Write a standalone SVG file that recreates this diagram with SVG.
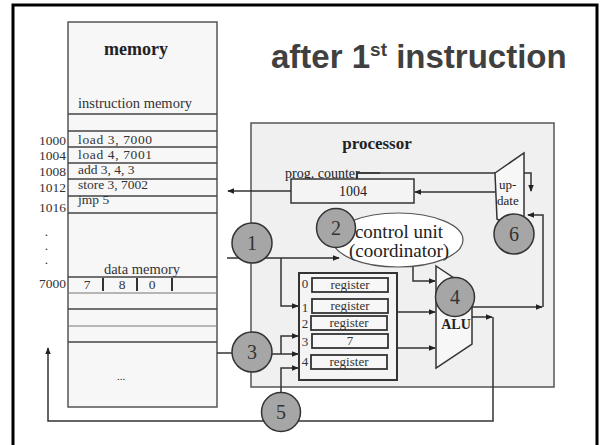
<svg xmlns="http://www.w3.org/2000/svg" width="602" height="445" viewBox="0 0 602 445">
  <defs>
    <marker id="arr" viewBox="0 0 8 8" refX="7" refY="4" markerWidth="7" markerHeight="7" markerUnits="userSpaceOnUse" orient="auto">
      <path d="M0,0.8 L8,4 L0,7.2 Z" fill="#222"/>
    </marker>
    <style>
      .serif { font-family: "Liberation Serif", "Times New Roman", serif; fill: #222; }
      .box { fill: #f7f7f7; stroke: #555; stroke-width: 1.5; }
      .row { stroke: #444; stroke-width: 1.5; }
      .rowl { stroke: #777; stroke-width: 1.2; }
      .wire { fill: none; stroke: #333; stroke-width: 1.5; }
      .wa { fill: none; stroke: #333; stroke-width: 1.5; marker-end: url(#arr); }
      .step { fill: #a6a6a6; stroke: #333; stroke-width: 1.5; }
      .num { font-family: "Liberation Serif", "Times New Roman", serif; font-size: 20px; fill: #333; text-anchor: middle; }
      .reg { fill: #f7f7f7; stroke: #333; stroke-width: 1.8; }
      .rt { font-family: "Liberation Serif", "Times New Roman", serif; font-size: 13px; fill: #333; text-anchor: middle; }
      .addr { font-family: "Liberation Serif", "Times New Roman", serif; font-size: 13.5px; fill: #333; text-anchor: end; }
      .ins { font-family: "Liberation Serif", "Times New Roman", serif; font-size: 13.5px; fill: #333; }
    </style>
  </defs>

  <rect width="602" height="445" fill="#ffffff"/>
  <!-- slide frame -->
  <path d="M13,447 V5 H597 V447" fill="none" stroke="#000" stroke-width="3"/>

  <!-- heading -->
  <g id="title">
    <text x="271" y="68" font-family="Liberation Sans, Arial, sans-serif" font-weight="bold" font-size="33" fill="#404040">after 1<tspan font-size="19" dy="-12">st</tspan><tspan dy="12"> instruction</tspan></text>
  </g>

  <!-- processor housing -->
  <g id="processor">
    <rect x="251" y="123" width="303" height="264" fill="#f0f0f0" stroke="#555" stroke-width="1.5"/>
    <text x="377" y="149" class="serif" font-size="17" font-weight="bold" text-anchor="middle">processor</text>
  </g>

  <!-- memory column -->
  <g id="memory">
    <rect x="68" y="22" width="149" height="385" class="box"/>
    <text x="136" y="55" class="serif" font-size="18" font-weight="bold" text-anchor="middle">memory</text>
    <text x="78" y="108" class="ins" style="font-size:14.5px">instruction memory</text>
    <line x1="68" y1="114" x2="217" y2="114" class="row"/>
    <line x1="68" y1="131" x2="217" y2="131" class="row"/>
    <line x1="68" y1="147" x2="217" y2="147" class="row"/>
    <line x1="68" y1="163" x2="217" y2="163" class="row"/>
    <line x1="68" y1="179" x2="217" y2="179" class="row"/>
    <line x1="68" y1="196" x2="217" y2="196" class="row"/>
    <line x1="68" y1="213" x2="217" y2="213" class="row"/>
    <text x="78" y="144" class="ins" textLength="74">load 3, 7000</text>
    <text x="78" y="159" class="ins" textLength="74">load 4, 7001</text>
    <text x="78" y="174" class="ins">add  3, 4, 3</text>
    <text x="78" y="189" class="ins">store 3, 7002</text>
    <text x="78" y="204" class="ins">jmp 5</text>
    <text x="66" y="145" class="addr">1000</text>
    <text x="66" y="160" class="addr">1004</text>
    <text x="66" y="176" class="addr">1008</text>
    <text x="66" y="192" class="addr">1012</text>
    <text x="66" y="212" class="addr">1016</text>
    <text x="48" y="236" class="addr" text-anchor="middle">.</text>
    <text x="48" y="250" class="addr" text-anchor="middle">.</text>
    <text x="48" y="264" class="addr" text-anchor="middle">.</text>
    <text x="142" y="274" class="ins" style="font-size:14.5px" text-anchor="middle">data memory</text>
    <line x1="68" y1="277" x2="217" y2="277" class="row"/>
    <text x="66" y="288" class="addr" fill="#666">7000</text>
    <text x="87" y="289" class="ins" text-anchor="middle" fill="#777">7</text>
    <text x="122" y="289" class="ins" text-anchor="middle">8</text>
    <text x="152" y="289" class="ins" text-anchor="middle">0</text>
    <line x1="103" y1="278" x2="103" y2="291" stroke="#333" stroke-width="2"/>
    <line x1="137" y1="278" x2="137" y2="291" stroke="#333" stroke-width="2"/>
    <line x1="172" y1="278" x2="172" y2="291" stroke="#333" stroke-width="2"/>
    <line x1="68" y1="293" x2="217" y2="293" class="rowl"/>
    <line x1="68" y1="309" x2="217" y2="309" class="row"/>
    <line x1="68" y1="326" x2="217" y2="326" class="rowl"/>
    <line x1="68" y1="342" x2="217" y2="342" class="row"/>
    <text x="121" y="380" class="serif" font-size="11" text-anchor="middle" fill="#999">...</text>
  </g>

  <!-- wiring -->
  <g id="connectors">
    <path d="M291,191 H228" class="wa" stroke="#555"/>
    <path d="M495,192 H415" class="wa"/>
    <path d="M357,179 V173 H531 V191" class="wa"/>
    <path d="M472,307 H542" class="wa"/>
    <path d="M543,307 V215 H528" class="wa"/>
    <path d="M472,317 H492" class="wa"/>
    <path d="M493,317 V421 H48 V348" class="wa"/>
    <path d="M227,258 H339" class="wa"/>
    <path d="M281,258 V306 H298" class="wa"/>
    <path d="M413,266 V281 H435" class="wa"/>
    <path d="M397,312 H435" class="wa"/>
    <path d="M397,348 H435" class="wa"/>
    <path d="M217,353 H272" class="wire"/>
    <path d="M272,354 H298" class="wa"/>
    <path d="M281,354 V336 H298" class="wa"/>
    <path d="M281,393 V368 H298" class="wa"/>
  </g>

  <!-- program counter -->
  <g id="prog-counter">
    <text x="285" y="178" class="serif" font-size="14" fill="#444">prog. counter</text>
    <path d="M357,179 V173 H380" class="wire"/>
    <rect x="291" y="179" width="123" height="24" fill="#f4f4f4" stroke="#333" stroke-width="1.5"/>
    <text x="353" y="196" class="serif" font-size="14" text-anchor="middle" fill="#333">1004</text>
  </g>

  <!-- PC update unit -->
  <g id="update">
    <path d="M495,173 L524,153 V236 L497,219 Z" fill="#f7f7f7" stroke="#333" stroke-width="1.5"/>
    <text x="499" y="189" class="serif" font-size="13" fill="#333">up-</text>
    <text x="497" y="205" class="serif" font-size="13" fill="#333">date</text>
  </g>

  <!-- control unit -->
  <g id="control-unit">
    <ellipse cx="398" cy="240" rx="65" ry="27" fill="#ffffff" stroke="#555" stroke-width="1.2"/>
    <text x="399" y="238" class="serif" font-size="19" text-anchor="middle">control unit</text>
    <text x="399" y="257" class="serif" font-size="19" text-anchor="middle">(coordinator)</text>
  </g>

  <!-- register file -->
  <g id="registers">
    <rect x="299" y="273" width="98" height="107" fill="#f4f4f4" stroke="#333" stroke-width="2"/>
    <rect x="312" y="278" width="76" height="14" class="reg"/>
    <rect x="312" y="299" width="76" height="14" class="reg"/>
    <rect x="311" y="316" width="76" height="14" class="reg" stroke="#555"/>
    <rect x="312" y="334" width="76" height="14" class="reg"/>
    <rect x="311" y="355" width="76" height="14" class="reg"/>
    <text x="350" y="289" class="rt">register</text>
    <text x="350" y="310" class="rt">register</text>
    <text x="349" y="327" class="rt">register</text>
    <text x="350" y="345" class="rt" fill="#888">7</text>
    <text x="349" y="366" class="rt">register</text>
    <text x="305" y="288" class="rt">0</text>
    <text x="305" y="312" class="rt">1</text>
    <text x="305" y="328" class="rt">2</text>
    <text x="305" y="346" class="rt">3</text>
    <text x="305" y="366" class="rt">4</text>
  </g>

  <!-- ALU -->
  <g id="alu">
    <path d="M436,266 L472,290 V344 L436,368 Z" fill="#f7f7f7" stroke="#333" stroke-width="1.5"/>
    <text x="456" y="329" class="serif" font-size="14" font-weight="bold" text-anchor="middle" fill="#555">ALU</text>
  </g>

  <!-- numbered steps -->
  <g id="step1"><circle cx="252" cy="243" r="20" class="step"/><text x="252" y="250" class="num">1</text></g>
  <g id="step2"><circle cx="336" cy="228" r="19.5" class="step"/><text x="336" y="235" class="num">2</text></g>
  <g id="step3"><circle cx="252" cy="352" r="20" class="step"/><text x="252" y="359" class="num">3</text></g>
  <g id="step4"><circle cx="455" cy="297" r="19.5" class="step"/><text x="455" y="304" class="num">4</text></g>
  <g id="step5"><circle cx="281" cy="412" r="19.5" class="step"/><text x="281" y="419" class="num">5</text></g>
  <g id="step6"><circle cx="514" cy="234" r="20" class="step"/><text x="514" y="241" class="num">6</text></g>
</svg>
